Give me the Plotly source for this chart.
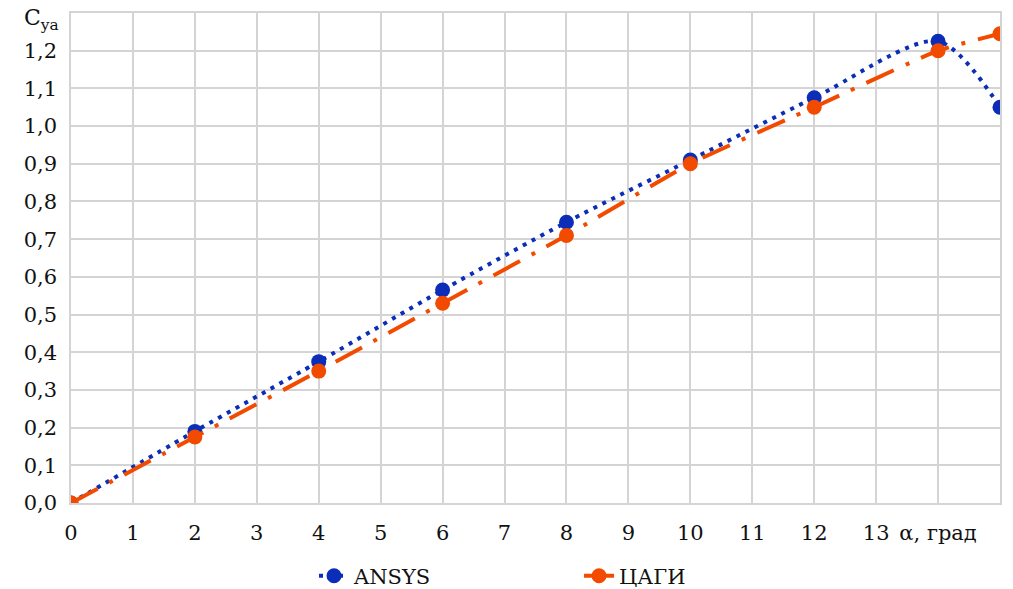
import plotly.graph_objects as go

alpha = [0, 2, 4, 6, 8, 10, 12, 14, 15]
cy_ansys = [0.0, 0.19, 0.375, 0.565, 0.745, 0.91, 1.075, 1.225, 1.05]
cy_tsagi = [0.0, 0.175, 0.35, 0.53, 0.71, 0.90, 1.05, 1.20, 1.245]
x_tick_vals = list(range(0, 15))
x_tick_text = [str(i) for i in range(0, 14)] + ["α, град"]
y_tick_vals = [round(i * 0.1, 1) for i in range(0, 13)]
y_tick_text = [f"{v:.1f}".replace(".", ",") for v in y_tick_vals]

blue = "#0b2db8"
orange = "#f24b00"
font = "DejaVu Serif"
fs = 21

fig = go.Figure()
fig.add_trace(go.Scatter(
    x=alpha, y=cy_ansys, name="ANSYS", mode="lines+markers",
    line=dict(color=blue, width=4, dash="4px,6px", shape="spline", smoothing=0.8),
    marker=dict(color=blue, size=15),
))
fig.add_trace(go.Scatter(
    x=alpha, y=cy_tsagi, name="ЦАГИ", mode="lines+markers",
    line=dict(color=orange, width=4, dash="30px,13px,4px,13px", shape="spline", smoothing=0.5),
    marker=dict(color=orange, size=15),
))

fig.add_annotation(
    x=0, xref="paper", xanchor="right", xshift=-10,
    y=1.3, yref="y", yanchor="middle", yshift=-6,
    text="C<sub>ya</sub>", showarrow=False,
    font=dict(family=font, size=fs + 1, color="#111"),
)

fig.update_layout(
    width=1013, height=589,
    margin=dict(l=71, r=13, t=13, b=86),
    paper_bgcolor="white", plot_bgcolor="white",
    font=dict(family=font, size=fs, color="#111"),
    showlegend=True,
    legend=dict(orientation="h", x=0.31, xanchor="left", xref="container",
                y=0.022, yanchor="middle", yref="container",
                entrywidth=220, entrywidthmode="pixels", bgcolor="rgba(0,0,0,0)",
                font=dict(family=font, size=fs, color="#111"),
                tracegroupgap=0),
    xaxis=dict(range=[0, 15], tickvals=x_tick_vals, ticktext=x_tick_text,
               tickfont=dict(family=font, size=fs, color="#111"),
               showgrid=True, gridcolor="#d4d4d4", gridwidth=1.5,
               zeroline=False, showline=True, linecolor="#d4d4d4", linewidth=1.5,
               mirror=True, ticks="", ticklabelstandoff=10, automargin=False),
    yaxis=dict(range=[0, 1.3], tickvals=y_tick_vals, ticktext=y_tick_text,
               tickfont=dict(family=font, size=fs, color="#111"),
               showgrid=True, gridcolor="#d4d4d4", gridwidth=1.5,
               zeroline=False, showline=True, linecolor="#d4d4d4", linewidth=1.5,
               mirror=True, ticks="", ticklabelstandoff=8, automargin=False),
)

fig.write_html("out.html")
